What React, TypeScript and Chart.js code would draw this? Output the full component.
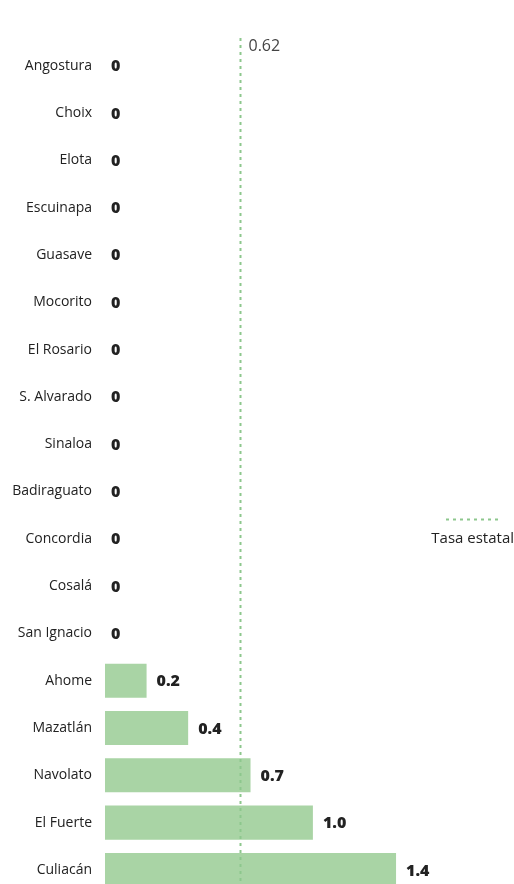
import { useEffect, useRef } from "react";
import { Chart, registerables } from "chart.js";

Chart.register(...registerables);

const categories = [
  "Angostura",
  "Choix",
  "Elota",
  "Escuinapa",
  "Guasave",
  "Mocorito",
  "El Rosario",
  "S. Alvarado",
  "Sinaloa",
  "Badiraguato",
  "Concordia",
  "Cosalá",
  "San Ignacio",
  "Ahome",
  "Mazatlán",
  "Navolato",
  "El Fuerte",
  "Culiacán",
];
const values = [0, 0, 0, 0, 0, 0, 0, 0, 0, 0, 0, 0, 0, 0.2, 0.4, 0.7, 1.0, 1.4];
const valueLabels = ["0", "0", "0", "0", "0", "0", "0", "0", "0", "0", "0", "0", "0", "0.2", "0.4", "0.7", "1.0", "1.4"];
const stateRateLabel = "0.62";
const stateRatePosition = 0.65;
const legendLabel = "Tasa estatal";

const FONT = "'Open Sans', 'Noto Sans', sans-serif";
const BAR_COLOR = "#a9d4a5";
const LINE_COLOR = "#8dc78d";
const TEXT_COLOR = "#222222";

export default function App() {
  const ref = useRef<HTMLCanvasElement | null>(null);

  useEffect(() => {
    if (!ref.current) return;

    const overlay = {
      id: "overlay",
      afterDatasetsDraw(chart: any) {
        const ctx = chart.ctx as CanvasRenderingContext2D;
        const xs = chart.scales.x;
        const meta = chart.getDatasetMeta(0);
        ctx.save();
        // value labels
        ctx.font = `800 16px ${FONT}`;
        ctx.fillStyle = TEXT_COLOR;
        ctx.textAlign = "left";
        ctx.textBaseline = "middle";
        meta.data.forEach((el: any, i: number) => {
          const off = values[i] > 0 ? 10 : 6;
          ctx.fillText(valueLabels[i], el.x + off, el.y + 1);
        });
        // state rate line
        const lx = Math.round(xs.getPixelForValue(stateRatePosition)) + 0.5;
        ctx.strokeStyle = LINE_COLOR;
        ctx.lineWidth = 2;
        ctx.setLineDash([3, 4]);
        ctx.beginPath();
        ctx.moveTo(lx, 38);
        ctx.lineTo(lx, chart.height);
        ctx.stroke();
        // label
        ctx.font = `16px ${FONT}`;
        ctx.fillStyle = "#444444";
        ctx.fillText(stateRateLabel, lx + 8, 46);
        // legend
        ctx.beginPath();
        ctx.moveTo(446, 519.5);
        ctx.lineTo(500, 519.5);
        ctx.stroke();
        ctx.setLineDash([]);
        ctx.font = `15px ${FONT}`;
        ctx.textAlign = "right";
        ctx.fillStyle = TEXT_COLOR;
        ctx.fillText(legendLabel, 514, 539);
        ctx.restore();
      },
    };

    const chart = new Chart(ref.current, {
      type: "bar",
      data: {
        labels: categories,
        datasets: [
          {
            data: values,
            backgroundColor: BAR_COLOR,
            borderWidth: 0,
            barPercentage: 0.72,
            categoryPercentage: 1,
          },
        ],
      },
      options: {
        indexAxis: "y",
        responsive: false,
        animation: false,
        devicePixelRatio: 1,
        layout: { padding: { top: 42, right: 14, left: 0, bottom: 0 } },
        plugins: {
          legend: { display: false },
          tooltip: { enabled: false },
          title: { display: false },
        },
        scales: {
          x: {
            display: false,
            min: 0,
            max: 1.9,
          },
          y: {
            grid: { display: false, drawTicks: false },
            border: { display: false },
            ticks: {
              autoSkip: false,
              padding: 13,
              color: TEXT_COLOR,
              font: { family: FONT, size: 14, weight: "500" },
            },
            afterFit(scale: any) {
              scale.width = 105;
            },
          },
        },
      },
      plugins: [overlay],
    });

    return () => chart.destroy();
  }, []);

  return (
    <div
      style={{
        position: "fixed",
        left: 0,
        top: 0,
        width: 514,
        height: 884,
        overflow: "hidden",
        background: "#ffffff",
      }}
    >
      <canvas ref={ref} width={514} height={915} style={{ display: "block", width: 514, height: 915 }} />
    </div>
  );
}
